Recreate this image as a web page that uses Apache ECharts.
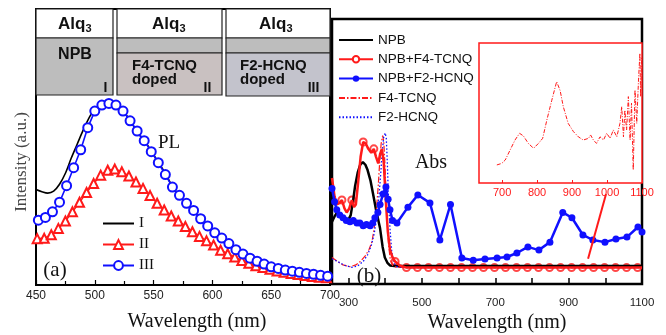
<!DOCTYPE html>
<html>
<head>
<meta charset="utf-8">
<script src="https://cdn.jsdelivr.net/npm/echarts@6/dist/echarts.min.js"></script>
<style>
html, body { margin: 0; padding: 0; background: #fff; }
#chart { width: 666px; height: 335px; }
</style>
</head>
<body>
<div id="chart"></div>
<script>
// ---- panel (a) PL ----
const plTicks = [450, 500, 550, 600, 650, 700];
const plWaveI = [450,455,460,465,470,475,480,485,490,495,500,505,510,515,520,525,530,535,540,545,550,555,560,565,570,575,580,585,590,595,600,610,620,630,640,650,660,670,680,690,700];
const plI = [34.6,33.8,33.3,34,36.5,40.5,46,51,56,60.5,63.8,65.3,65.8,65.6,64.8,62.6,59.6,56.2,53.2,50.6,47.2,43.8,40.4,36.4,33.2,31,28.6,26.3,23.9,21.7,19.4,16,12.6,9.9,8,6.5,5.4,4.7,4.1,3.6,3.2];
const plWaveII = [451,457,463,469,475,481,487,493,499,505,511,517,523,529,535,541,547,553,559,565,571,577,583,589,595,601,607,613,619,625,631,637,643,649,655,661,667,673,679,685,691,697];
const plII = [16.8,16.9,18.2,20.5,23.2,26.5,30,33.5,36.8,39.8,41.6,42,41,39.5,37.3,35,32.4,29.6,27.2,25,23.2,21.2,19.3,17.6,16,14.5,12.6,11.3,10.1,8.9,7.9,7,6.3,5.7,5.1,4.6,4.2,3.8,3.4,3.1,2.8,2.6];
const plWaveIII = [452,458,464,470,476,482,488,494,500,506,512,518,524,530,536,542,548,554,560,566,572,578,584,590,596,602,608,614,620,626,632,638,644,650,656,662,668,674,680,686,692,698];
const plIII = [23.5,24.5,26.5,30,36,42.5,49,57,63,65.2,65.8,65.2,63,59.5,55.8,52.3,48.3,44.3,40,35.5,32.5,29.6,27,24,21.4,18.9,17,15,12.8,11.2,9.7,8.6,7.6,6.6,6,5.4,5,4.6,4.2,3.9,3.5,3.2];

// ---- panel (b) absorption ----
const absTicks = [300,400,500,600,700,800,900,1000,1100];
const absLabels = [300,500,700,900,1100];
const npbWave = [255,262,268,275,283,291,299,306,312,318,325,332,339,346,352,360,367,375,386,393,399,406,413,425,500,700,900,1100];
const npbAbs = [23.5,25.5,26.8,26.5,25.5,24.5,24,26,31,37,42,45,46,45,43,39,34,28,21,14,10,8,7,6.8,6.8,6.8,6.8,6.8];
const f4DopedWave = [255,262,268,275,282,289,295,302,309,315,320,326,333,340,347,354,362,369,375,381,386,391,396,401,407,413,420,427,440,458,700,900,1100];
const f4DopedAbs = [40,33,30,30.5,31.7,28.5,27,28.5,31.7,29,30,38,48,53.6,53,51,49.5,51,48,45.5,49,51,46,33,20,13,10,8.5,7,6.2,6.2,6.2,6.2];
const f4MarkWave = [282,309,340,369,427,458,488,518,548,578,608,638,668,698,728,758,788,818,848,878,908,938,968,998,1028,1058,1088];
const f4MarkAbs = [31.7,31.7,53.6,51,8.5,6.2,6.2,6.2,6.2,6.2,6.2,6.2,6.2,6.2,6.2,6.2,6.2,6.2,6.2,6.2,6.2,6.2,6.2,6.2,6.2,6.2,6.2];
const f2DopedWave = [255,262,268,276,285,294,304,313,323,331,340,349,359,366,372,380,386,394,402,408,413,420,432,462,489,522,549,578,609,640,672,705,732,759,789,819,849,884,909,939,966,999,1029,1059,1089,1100];
const f2DopedAbs = [36,31,28,26,25,24,23.5,24,23,23,22,22.5,22,23,25,27,30,34,36.6,32,28,24,23,29,33.6,30.6,16.6,30,9.8,9,9.4,9.8,10.2,11.7,14,12.8,15.8,27,25,18.5,16.6,15.8,17,17.7,21.5,19.6];
const f4Wave = [255,270,285,304,320,332,345,356,364,370,376,381,385,389,393,396,399,402,405,409,414,420,430,460,700,900,1100];
const f4Abs = [10,8.5,7.2,6.5,7.2,8.5,10.5,13,16,21,28,37,46,53,56,54,46,36,25,15,9,7,6.3,6.2,6.2,6.2,6.2];
const f2Wave = [255,270,290,310,325,340,352,362,370,377,383,388,392,396,400,403,406,409,413,418,424,432,460,700,900,1100];
const f2Abs = [9.5,8.5,7,6.3,6.8,8.5,11,14.5,19,25,33,42,50,55.5,57,55,45,32,21,12,8,6.5,6.2,6.2,6.2,6.2];

// ---- inset: F4-TCNQ, 700-1100 nm ----
const insetLabels = [700,800,900,1000,1100];
const insetWave = [685,699,709,723,737,750,761,775,790,804,816,828,842,856,866,875,889,904,918,932,947,953,961,970,980,990,999,1009,1018,1028,1037,1042,1047,1051,1056,1061,1066,1070,1075,1080,1085,1090,1094,1096,1099];
const insetAbs = [12.9,14,16.4,23.6,30.7,35.5,33.6,28.3,24.8,28.3,31.9,45,59,72.4,66,54.5,42.6,36.7,33,30.7,31.9,34.3,30.7,28.3,33,30.7,35.5,31.9,37.9,33,42.6,54.5,33,52,37.9,61.7,30.7,57,9.3,66.4,42.6,73.6,92.6,61.7,90];

// red arrow (annotation), in panel (b) data units
const arrowFrom = [1002, 34];
const arrowTo = [953, 9.5];

const SERIF = "'Liberation Serif', 'Times New Roman', serif";
const SANS = "'Liberation Sans', Arial, sans-serif";
const RED = '#ff1a1a';
const BLUE = '#1010ff';

let zip = (xs, ys) => xs.map((x, i) => [x, ys[i]]);
let plain = v => String(v);

let txt = (x, y, text, size, opts) => ({
    type: 'text', x: x, y: y, z: 100,
    rotation: (opts && opts.rotation) || 0,
    style: {
        text: text,
        fontSize: size,
        fontFamily: (opts && opts.font) || SERIF,
        fontWeight: (opts && opts.weight) || 'normal',
        fill: (opts && opts.color) || '#111',
        align: (opts && opts.align) || 'center',
        verticalAlign: 'middle'
    }
});

let box = (x, y, w, h, fill) => ({
    type: 'rect', z: 90,
    shape: { x: x, y: y, width: w, height: h },
    style: { fill: fill, stroke: '#222', lineWidth: 1.2 }
});

let bold = { font: SANS, weight: 'bold' };
let boldLeft = { font: SANS, weight: 'bold', align: 'left' };

let schematic = [
    box(36, 9, 77, 29, '#fff'),
    box(117, 9, 105, 29, '#fff'),
    box(226, 9, 104, 29, '#fff'),
    box(36, 38, 77, 57, '#bdbdbd'),
    box(117, 38, 105, 15, '#bdbdbd'),
    box(117, 53, 105, 42, '#c9c1c1'),
    box(226, 38, 104, 15, '#bdbdbd'),
    box(226, 53, 104, 43, '#c3c3cc'),
    txt(58, 24, 'Alq', 17, boldLeft),
    txt(85.5, 29, '3', 11, boldLeft),
    txt(152, 24, 'Alq', 17, boldLeft),
    txt(179.5, 29, '3', 11, boldLeft),
    txt(259, 24, 'Alq', 17, boldLeft),
    txt(286.5, 29, '3', 11, boldLeft),
    txt(75, 55, 'NPB', 16, bold),
    txt(105.5, 88, 'I', 14, bold),
    txt(132, 66, 'F4-TCNQ', 15, boldLeft),
    txt(132, 80, 'doped', 15, boldLeft),
    txt(207.5, 88, 'II', 14, bold),
    txt(240, 66, 'F2-HCNQ', 15, boldLeft),
    txt(240, 80, 'doped', 15, boldLeft),
    txt(313.5, 88, 'III', 14, bold)
];

let labels = [
    txt(22, 162, 'Intensity (a.u.)', 17, { rotation: Math.PI / 2, color: '#444' }),
    txt(197, 322, 'Wavelength (nm)', 20),
    txt(497, 323, 'Wavelength (nm)', 20),
    txt(169, 143, 'PL', 19),
    txt(55, 270, '(a)', 21),
    txt(431, 163, 'Abs', 20),
    txt(369, 276, '(b)', 21)
];

let hideY = idx => ({
    gridIndex: idx, type: 'value', min: 0, max: 100,
    axisLine: { show: false }, axisTick: { show: false },
    axisLabel: { show: false }, splitLine: { show: false }
});

let option = {
    animation: false,
    backgroundColor: '#fff',
    grid: [
        { left: 36, right: 336, top: 9, bottom: 50, show: true, borderColor: '#000', borderWidth: 2, outerBoundsMode: 'none' },
        { left: 332, right: 24, top: 19, bottom: 51, show: true, borderColor: '#000', borderWidth: 2.5, outerBoundsMode: 'none' },
        { left: 479, right: 24, top: 43, bottom: 152, show: true, borderColor: RED, borderWidth: 1.5, backgroundColor: '#fff', outerBoundsMode: 'none' }
    ],
    xAxis: [
        {
            gridIndex: 0, type: 'value', min: 450, max: 700, interval: 50,
            axisLine: { show: false },
            axisTick: { inside: true, length: 5, lineStyle: { color: '#000', width: 1.2 } },
            minorTick: { show: true, splitNumber: 2, length: 4, lineStyle: { color: '#000', width: 1.2 } },
            axisLabel: { margin: 5, fontSize: 12, fontFamily: SANS, color: '#222', customValues: plTicks, formatter: plain },
            splitLine: { show: false }
        },
        {
            gridIndex: 1, type: 'value', min: 255, max: 1100,
            axisLine: { show: false },
            axisTick: { inside: true, length: 6, customValues: absTicks, lineStyle: { color: '#000', width: 1.5 } },
            axisLabel: { margin: 13, fontSize: 11.5, fontFamily: SANS, color: '#222', customValues: absLabels, formatter: plain },
            splitLine: { show: false }
        },
        {
            gridIndex: 2, type: 'value', min: 634, max: 1100,
            axisLine: { show: false },
            axisTick: { inside: true, length: 3, customValues: insetLabels, lineStyle: { color: RED, width: 1 } },
            axisLabel: { margin: 4, fontSize: 11, fontFamily: SANS, color: RED, customValues: insetLabels, formatter: plain },
            splitLine: { show: false }
        }
    ],
    yAxis: [hideY(0), hideY(1), hideY(2)],
    legend: [
        {
            data: [{ name: 'I', itemStyle: { opacity: 0 } }, 'II', 'III'],
            orient: 'vertical', left: 97, top: 211,
            itemWidth: 31, itemHeight: 11, itemGap: 6,
            textStyle: { fontFamily: SERIF, fontSize: 15, color: '#111' }
        },
        {
            data: [
                { name: 'NPB', itemStyle: { opacity: 0 } },
                'NPB+F4-TCNQ',
                'NPB+F2-HCNQ',
                { name: 'F4-TCNQ', itemStyle: { opacity: 0 } },
                { name: 'F2-HCNQ', itemStyle: { opacity: 0 } }
            ],
            orient: 'vertical', left: 333, top: 28,
            itemWidth: 34, itemHeight: 8, itemGap: 5.3,
            textStyle: { fontFamily: SANS, fontSize: 13.5, color: '#111' }
        }
    ],
    series: [
        {
            name: 'I', type: 'line', xAxisIndex: 0, yAxisIndex: 0, symbol: 'none', smooth: 0.3,
            lineStyle: { color: '#000', width: 1.6 }, itemStyle: { color: '#000' },
            data: zip(plWaveI, plI)
        },
        {
            name: 'II', type: 'line', xAxisIndex: 0, yAxisIndex: 0, symbol: 'emptyTriangle', symbolSize: 9,
            lineStyle: { color: RED, width: 1.6 }, itemStyle: { color: RED, borderWidth: 1.3 },
            data: zip(plWaveII, plII)
        },
        {
            name: 'III', type: 'line', xAxisIndex: 0, yAxisIndex: 0, symbol: 'emptyCircle', symbolSize: 9,
            lineStyle: { color: BLUE, width: 1.6 }, itemStyle: { color: BLUE, borderWidth: 1.4 },
            data: zip(plWaveIII, plIII)
        },
        {
            name: 'NPB', type: 'line', xAxisIndex: 1, yAxisIndex: 1, symbol: 'none',
            lineStyle: { color: '#000', width: 2.5 }, itemStyle: { color: '#000' },
            data: zip(npbWave, npbAbs),
            markLine: {
                silent: true, symbol: ['none', 'arrow'], symbolSize: [0, 11],
                label: { show: false },
                lineStyle: { color: RED, width: 2, type: 'solid' },
                data: [[{ coord: arrowFrom }, { coord: arrowTo }]]
            }
        },
        {
            name: 'F4-TCNQ', type: 'line', xAxisIndex: 1, yAxisIndex: 1, symbol: 'none',
            lineStyle: { color: RED, width: 1.2, type: [6, 2, 1.5, 2] }, itemStyle: { color: RED },
            data: zip(f4Wave, f4Abs)
        },
        {
            name: 'F2-HCNQ', type: 'line', xAxisIndex: 1, yAxisIndex: 1, symbol: 'none',
            lineStyle: { color: BLUE, width: 1.3, type: [1.5, 2] }, itemStyle: { color: BLUE },
            data: zip(f2Wave, f2Abs)
        },
        {
            name: 'NPB+F4-TCNQ', type: 'line', xAxisIndex: 1, yAxisIndex: 1,
            symbol: 'emptyCircle', showSymbol: false,
            lineStyle: { color: RED, width: 2.5 }, itemStyle: { color: RED, borderWidth: 1.3 },
            data: zip(f4DopedWave, f4DopedAbs)
        },
        {
            name: 'f4-doped-marks', type: 'scatter', xAxisIndex: 1, yAxisIndex: 1,
            symbol: 'emptyCircle', symbolSize: 7,
            itemStyle: { color: RED, borderWidth: 1.2 },
            data: zip(f4MarkWave, f4MarkAbs)
        },
        {
            name: 'NPB+F2-HCNQ', type: 'line', xAxisIndex: 1, yAxisIndex: 1,
            symbol: 'circle', symbolSize: 7,
            lineStyle: { color: BLUE, width: 2.5 }, itemStyle: { color: BLUE },
            data: zip(f2DopedWave, f2DopedAbs)
        },
        {
            name: 'F4-TCNQ inset', type: 'line', xAxisIndex: 2, yAxisIndex: 2, symbol: 'none',
            lineStyle: { color: RED, width: 1, type: [4, 1.5, 1, 1.5] },
            data: zip(insetWave, insetAbs)
        }
    ],
    graphic: { elements: schematic.concat(labels) }
};

let chart = echarts.init(document.getElementById('chart'), null, { renderer: 'canvas' });
chart.setOption(option);
</script>
</body>
</html>
